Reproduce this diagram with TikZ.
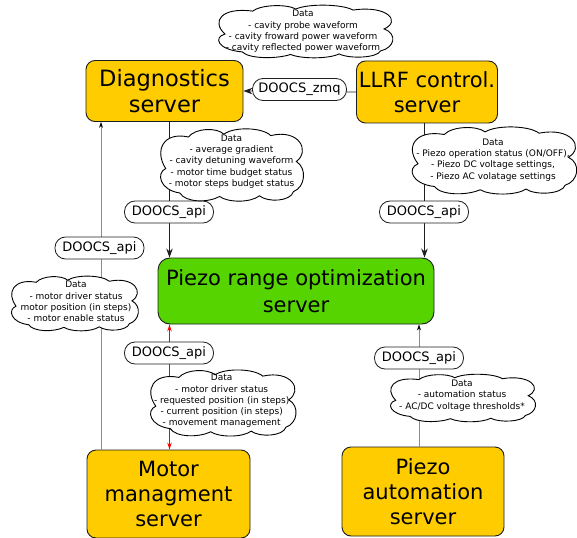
\documentclass[tikz,border=0pt]{standalone}
\usepackage{fontspec}
\setmainfont{DejaVu Sans}
\usetikzlibrary{arrows.meta}
\definecolor{boxyellow}{RGB}{255,204,0}
\definecolor{boxgreen}{RGB}{85,212,0}
\definecolor{linegray}{RGB}{140,140,140}
\definecolor{edgedark}{RGB}{30,30,30}
\tikzset{
  server/.style={draw=edgedark, line width=0.9pt, fill=boxyellow, rounded corners=9pt, align=center, font=\fontsize{21}{25}\selectfont, inner sep=0pt},
  pill/.style={draw=edgedark, line width=0.8pt, fill=white, rounded corners=10.5pt, minimum height=22pt, minimum width=89pt, inner sep=2pt, font=\fontsize{13}{15}\selectfont},
  cloudline/.style={draw=black, line width=0.9pt, fill=white},
  cloudtext/.style={align=center, font=\fontsize{9}{11.3}\selectfont, inner sep=0pt},
  darkarrow/.style={draw=edgedark, line width=0.8pt, -{Stealth[length=9pt,width=6.5pt]}},
  grayarrow/.style={draw=linegray, line width=0.8pt, -{Stealth[length=6pt,width=4pt,color=black]}},
  redarrow/.style={draw=red, line width=0.8pt, {Stealth[length=7pt,width=4.5pt]}-{Stealth[length=7pt,width=4.5pt]}},
}
% cloud outline in the box (x0,y0) width w height h
\newcommand\mycloud[4]{%
  \draw[cloudline, shift={(#1,#2)}, xscale=#3, yscale=#4]
    (0.04,0.55) .. controls (-0.04,0.30) and (0.02,0.02) .. (0.20,0.10)
    .. controls (0.25,-0.03) and (0.40,-0.04) .. (0.45,0.06)
    .. controls (0.52,-0.05) and (0.72,-0.04) .. (0.78,0.08)
    .. controls (0.98,-0.02) and (1.06,0.30) .. (0.96,0.45)
    .. controls (1.04,0.55) and (1.02,0.82) .. (0.94,0.88)
    .. controls (0.92,1.02) and (0.76,1.04) .. (0.70,0.94)
    .. controls (0.64,1.04) and (0.48,1.04) .. (0.42,0.95)
    .. controls (0.34,1.04) and (0.18,1.04) .. (0.14,0.90)
    .. controls (0.0,0.86) and (-0.03,0.62) .. (0.04,0.55) -- cycle;}
\begin{document}
\begin{tikzpicture}[x=1pt,y=-1pt]
\useasboundingbox (0,0) rectangle (577,537);
% servers
\node[server, minimum width=157pt, minimum height=61pt, font=\fontsize{22.5}{26}\selectfont] (diag) at (164.5,91) {Diagnostics\\server};
\node[server, minimum width=141pt, minimum height=62pt] (llrf) at (427,92) {LLRF control.\\server};
\node[server, fill=boxgreen, rounded corners=12pt, minimum width=276pt, minimum height=66pt, font=\fontsize{21}{26.5}\selectfont] (pro) at (296,291) {Piezo range optimization\\server};
\node[server, minimum width=163pt, minimum height=88pt] (motor) at (168.5,494) {Motor\\managment\\server};
\node[server, minimum width=162pt, minimum height=89pt] (pauto) at (423,491.5) {Piezo\\automation\\server};
% x positions of vertical connectors
\coordinate (xA) at (169.5,0);
\coordinate (xL) at (101,0);
\coordinate (xR) at (424.5,0);
\coordinate (xR2) at (419,0);
% connectors
\draw[darkarrow] (llrf.west) -- (diag.east);
\draw[darkarrow] (diag.south -| xA) -- (pro.north -| xA);
\draw[darkarrow] (llrf.south -| xR) -- (pro.north -| xR);
\draw[grayarrow] (motor.north -| xL) -- (diag.south -| xL);
\draw[redarrow] (pro.south -| xA) -- (motor.north -| xA);
\draw[grayarrow] (pauto.north -| xR2) -- (pro.south -| xR2);
% labels
\node[pill, minimum width=94pt] (zmq) at (299.5,89.5) {DOOCS\_zmq};
\node[pill] (api1) at (169,212) {DOOCS\_api};
\node[pill] (api2) at (424,212) {DOOCS\_api};
\node[pill] (api3) at (99.5,248) {DOOCS\_api};
\node[pill] (api4) at (169,353) {DOOCS\_api};
\node[pill] (api5) at (419,358) {DOOCS\_api};
% clouds
\mycloud{218}{6}{173}{51}
\node[cloudtext] (t1) at (303,31.5) {Data\\- cavity probe waveform\\- cavity froward power waveform\\- cavity reflected power waveform};
\mycloud{160}{130}{142}{70}
\node[cloudtext] (t2) at (231.5,161.5) {Data\\- average gradient\\- cavity detuning waveform\\- motor time budget status\\- motor steps budget status};
\mycloud{411.5}{128}{163.5}{65}
\node[cloudtext] (t3) at (493,160) {Data\\- Piezo operation status (ON/OFF),\\- Piezo DC voltage settings,\\- Piezo AC volatage settings};
\mycloud{11}{277}{126}{53}
\node[cloudtext] (t4) at (76,301.7) {Data\\- motor driver status\\motor position (in steps)\\- motor enable status};
\mycloud{150}{371}{144.5}{64}
\node[cloudtext] (t5) at (221.7,401) {Data\\- motor driver status\\- requested position (in steps)\\- current position (in steps)\\- movement management};
\mycloud{390}{375}{144}{46}
\node[cloudtext] (t6) at (462,395.5) {Data\\- automation status\\- AC/DC voltage thresholds*};
\end{tikzpicture}
\end{document}
